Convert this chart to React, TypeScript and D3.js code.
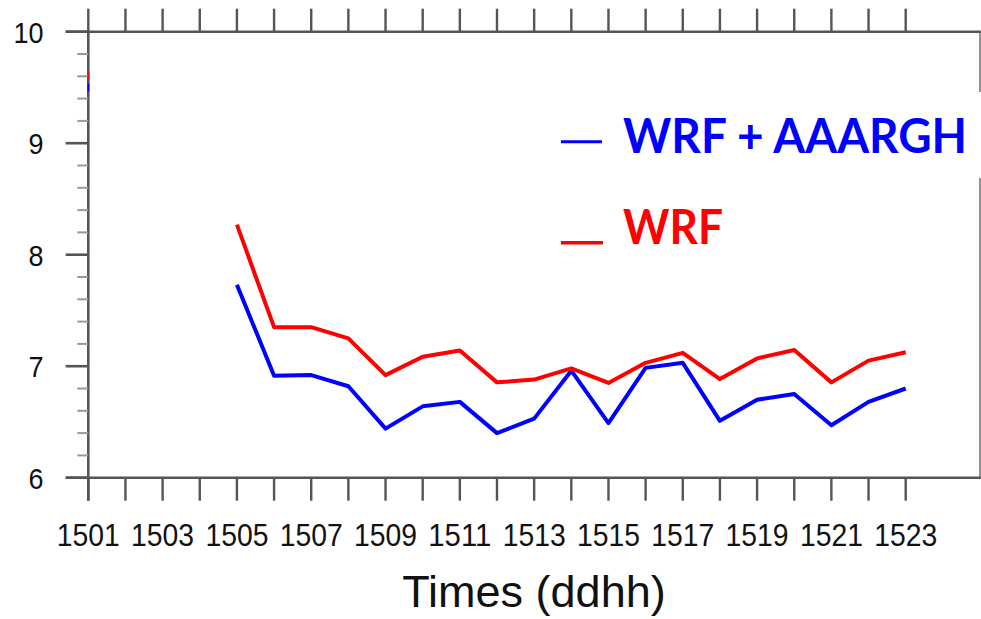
import React from "react";
import * as d3 from "d3";

const hours: string[] = [
  "1501","1502","1503","1504","1505","1506","1507","1508","1509","1510","1511","1512",
  "1513","1514","1515","1516","1517","1518","1519","1520","1521","1522","1523",
];
const tickLabels: string[] = ["1501","1503","1505","1507","1509","1511","1513","1515","1517","1519","1521","1523"];
const yTicks: number[] = [6, 7, 8, 9, 10];
const yMinorTicks: number[] = [6.2, 6.4, 6.6, 6.8, 7.2, 7.4, 7.6, 7.8, 8.2, 8.4, 8.6, 8.8, 9.2, 9.4, 9.6, 9.8];

// WRF + AAARGH (blue)
const wrfAaargh: (number | null)[] = [
  9.5, null, null, null, 7.73, 6.915, 6.92, 6.82, 6.44, 6.64, 6.68, 6.4,
  6.53, 6.96, 6.49, 6.985, 7.03, 6.51, 6.7, 6.75, 6.47, 6.68, 6.8,
];
// WRF (red)
const wrf: (number | null)[] = [
  9.6, null, null, null, 8.27, 7.35, 7.35, 7.25, 6.92, 7.085, 7.14, 6.855,
  6.88, 6.98, 6.85, 7.03, 7.12, 6.885, 7.07, 7.145, 6.855, 7.05, 7.125,
];

const seriesNames = ["WRF + AAARGH", "WRF"];
const seriesColors = ["#0000ff", "#ff0000"];
const xTitle = "Times (ddhh)";

export default function App() {
  const W = 981, H = 619;
  const x = d3.scaleLinear().domain([0, 24]).range([88.3, 980]);
  const y = d3.scaleLinear().domain([6, 10]).range([477.7, 31.7]);
  const idx = (h: string) => hours.indexOf(h);

  const line = d3
    .line<number | null>()
    .defined((d) => d !== null)
    .x((_, i) => x(i))
    .y((d) => y(d as number));

  const series = [wrfAaargh, wrf];
  const axisColor = "#555";
  const font = "'Liberation Sans', Arial, Helvetica, sans-serif";

  return (
    <svg width={W} height={H} style={{ position: "absolute", left: 0, top: 0, background: "#fff" }}>
      <rect x={0} y={0} width={W} height={H} fill="#fff" />
      {/* frame */}
      <line x1={x(24)} x2={x(24)} y1={y(10)} y2={y(6)} stroke="#777" strokeWidth={1.6} />
      <line x1={65.7} x2={x(24) + 0.8} y1={y(10)} y2={y(10)} stroke={axisColor} strokeWidth={2.6} />
      <line x1={65.7} x2={x(24) + 0.8} y1={y(6)} y2={y(6)} stroke={axisColor} strokeWidth={2.6} />
      <line x1={x(0)} x2={x(0)} y1={y(10)} y2={y(6) + 23} stroke={axisColor} strokeWidth={2.6} />

      {/* x ticks top and bottom */}
      {hours.map((h) => (
        <g key={"xt" + h}>
          <line x1={x(idx(h))} x2={x(idx(h))} y1={y(6)} y2={y(6) + 23} stroke={axisColor} strokeWidth={2.4} />
          <line x1={x(idx(h))} x2={x(idx(h))} y1={y(10)} y2={y(10) - 23} stroke={axisColor} strokeWidth={2.4} />
        </g>
      ))}
      {/* y ticks */}
      {yMinorTicks.map((v) => (
        <line key={"ym" + v} x1={77.3} x2={x(0)} y1={y(v)} y2={y(v)} stroke="#999" strokeWidth={2} />
      ))}
      {yTicks.map((v) => (
        <line key={"yt" + v} x1={65.7} x2={x(0)} y1={y(v)} y2={y(v)} stroke={axisColor} strokeWidth={2.6} />
      ))}

      {/* x labels */}
      {tickLabels.map((t) => (
        <text
          key={"xl" + t}
          x={x(idx(t))}
          y={546}
          textAnchor="middle"
          fontFamily={font}
          fontSize={32}
          textLength={63}
          lengthAdjust="spacingAndGlyphs"
          fill="#111"
        >
          {t}
        </text>
      ))}
      {/* y labels */}
      {yTicks.map((v) => (
        <text
          key={"yl" + v}
          x={43.5}
          y={y(v) + 11}
          textAnchor="end"
          fontFamily={font}
          fontSize={29.5}
          textLength={String(v).length * 15}
          lengthAdjust="spacingAndGlyphs"
          fill="#111"
        >
          {v}
        </text>
      ))}
      {/* x title */}
      <text x={534} y={607} textAnchor="middle" fontFamily={font} fontSize={45} fill="#111">
        {xTitle}
      </text>

      {/* data lines */}
      {series.map((s, k) => (
        <g key={"s" + k}>
          <path d={line(s) || ""} fill="none" stroke={seriesColors[k]} strokeWidth={4} strokeLinejoin="round" />
          {s.map((d, i) =>
            d !== null && (i === 0 || s[i - 1] === null) && (i === s.length - 1 || s[i + 1] === null) ? (
              <rect key={i} x={x(i) - 0.8} y={y(d) - 4} width={1.8} height={8} fill={seriesColors[k]} />
            ) : null
          )}
        </g>
      ))}

      {/* legend */}
      <rect x={612} y={92} width={370} height={86} fill="#fff" />
      <line x1={561} x2={602} y1={141.7} y2={141.7} stroke={seriesColors[0]} strokeWidth={3} />
      <line x1={561} x2={603} y1={242.7} y2={242.7} stroke={seriesColors[1]} strokeWidth={3.4} />
      <text
        x={623}
        y={153}
        fontFamily="Lato, 'Open Sans', sans-serif"
        fontWeight="bold"
        fontSize={47}
        textLength={344}
        lengthAdjust="spacingAndGlyphs"
        fill={seriesColors[0]}
      >
        {seriesNames[0]}
      </text>
      <text
        x={623}
        y={244}
        fontFamily="Lato, 'Open Sans', sans-serif"
        fontWeight="bold"
        fontSize={47}
        textLength={100}
        lengthAdjust="spacingAndGlyphs"
        fill={seriesColors[1]}
      >
        {seriesNames[1]}
      </text>
    </svg>
  );
}
